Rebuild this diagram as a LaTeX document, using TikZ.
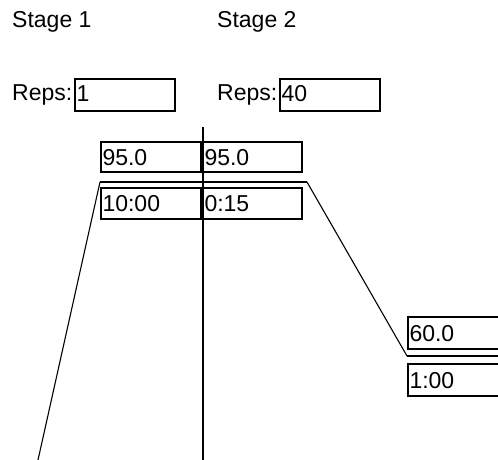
\documentclass[tikz,border=0pt]{standalone}
\usepackage{fontspec}
\setmainfont{Liberation Sans}
\begin{document}
\begin{tikzpicture}[x=1pt,y=-1pt,
  lbl/.style={font=\fontsize{23}{27}\selectfont, inner sep=0pt, anchor=base west},
  fieldbox/.style={draw, line width=1.6pt, outer sep=0pt, inner xsep=1.5pt, inner ysep=0pt,
    anchor=north west, align=left, font=\fontsize{23}{27}\selectfont,
    text height=16.5pt, text depth=0pt},
  thickline/.style={line width=1.8pt},
  thinline/.style={line width=1.1pt}]
\useasboundingbox (0,0) rectangle (498,460);
% stage titles
\node[lbl] (s1) at (12,28) {Stage 1};
\node[lbl] (s2) at (217,28) {Stage 2};
% reps
\node[lbl] (r1) at (12,100) {Reps:};
\node[lbl] (r2) at (217,100) {Reps:};
\node[fieldbox, text width=97pt, minimum height=32pt, text depth=3pt] (rb1) at (75,79) {1};
\node[fieldbox, text width=97pt, minimum height=32pt, text depth=3pt] (rb2) at (280,79) {40};
% temperature / time fields
\node[fieldbox, text width=97pt, minimum height=30pt] (t1) at (101,142) {95.0};
\node[fieldbox, text width=96pt, minimum height=30pt] (t2) at (203,142) {95.0};
\node[fieldbox, text width=97pt, minimum height=31pt] (d1) at (101,188) {10:00};
\node[fieldbox, text width=96pt, minimum height=31pt] (d2) at (203,188) {0:15};
\node[fieldbox, text width=97pt, minimum height=32pt] (t3) at (408,317) {60.0};
\node[fieldbox, text width=97pt, minimum height=32pt] (d3) at (408,364) {1:00};
% profile
\coordinate (p0) at (38,460);
\coordinate (p1) at (100,182);
\coordinate (p2) at (307,182);
\coordinate (p3) at (407,356);
\coordinate (p4) at (498,356);
\draw[thinline] (p0) -- (p1);
\draw[thickline] (p1) -- (p2);
\draw[thinline] (p2) -- (p3);
\draw[thickline] (p3) -- (p4);
% stage divider
\coordinate (v0) at (203,127);
\coordinate (v1) at (203,460);
\draw[thickline] (v0) -- (v1);
\end{tikzpicture}
\end{document}
